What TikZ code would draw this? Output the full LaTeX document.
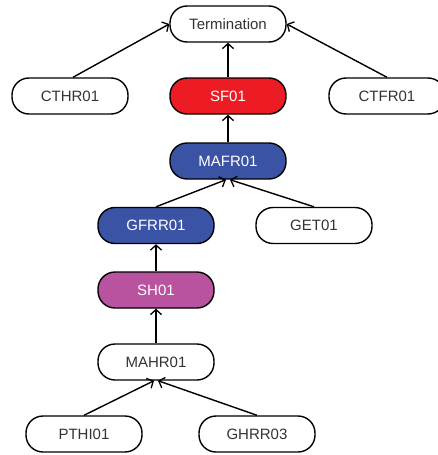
\documentclass[tikz,border=0pt]{standalone}
\usepackage{fontspec}
\setmainfont{Liberation Sans}
\usetikzlibrary{arrows.meta}
\definecolor{txtgray}{HTML}{333333}
\definecolor{sfred}{HTML}{ED1C24}
\definecolor{mablue}{HTML}{3A53A4}
\definecolor{shpink}{HTML}{B9529F}
\tikzset{
  pill/.style={draw=black, line width=1.4pt, rounded corners=17pt,
    minimum width=116pt, minimum height=36pt, inner sep=0pt,
    fill=white, text=txtgray, font=\fontsize{15}{18}\selectfont},
  redpill/.style={pill, fill=sfred, text=white},
  bluepill/.style={pill, fill=mablue, text=white},
  pinkpill/.style={pill, fill=shpink, text=white},
  link/.style={draw=black, line width=1.4pt,
    -{Straight Barb[length=5pt, width=11pt, line width=1.3pt]}},
}
\begin{document}
\begin{tikzpicture}[x=1pt, y=-1pt]
\useasboundingbox (0,0) rectangle (438,455);
\clip (0,0) rectangle (438,455);
\node[pill]     (term)   at (228,24)  {Termination};
\node[pill]     (cthr)   at (70,96)   {CTHR01};
\node[redpill]  (sf)     at (228,96)  {SF01};
\node[pill]     (ctfr)   at (387,96)  {CTFR01};
\node[bluepill] (mafr)   at (228,161) {MAFR01};
\node[bluepill] (gfrr)   at (156,225.5) {GFRR01};
\node[pill]     (get)    at (314,225.5) {GET01};
\node[pinkpill] (sh)     at (156,290) {SH01};
\node[pill]     (mahr)   at (156,362) {MAHR01};
\node[pill]     (pthi)   at (84,434)  {PTHI01};
\node[pill]     (ghrr)   at (257,434) {GHRR03};

\draw[link] (cthr.north) ++(3,0) -- (term.west);
\draw[link] (ctfr.north) -- (term.east);
\draw[link] (sf) -- (term);
\draw[link] (mafr) -- (sf);
\draw[link] (gfrr.north) -- ([xshift=-2pt]mafr.south);
\draw[link] (get.north) -- ([xshift=2pt]mafr.south);
\draw[link] (sh) -- (gfrr);
\draw[link] (mahr) -- (sh);
\draw[link] (pthi.north) -- ([xshift=-2pt]mahr.south);
\draw[link] (ghrr.north) -- ([xshift=2pt]mahr.south);
\end{tikzpicture}
\end{document}
